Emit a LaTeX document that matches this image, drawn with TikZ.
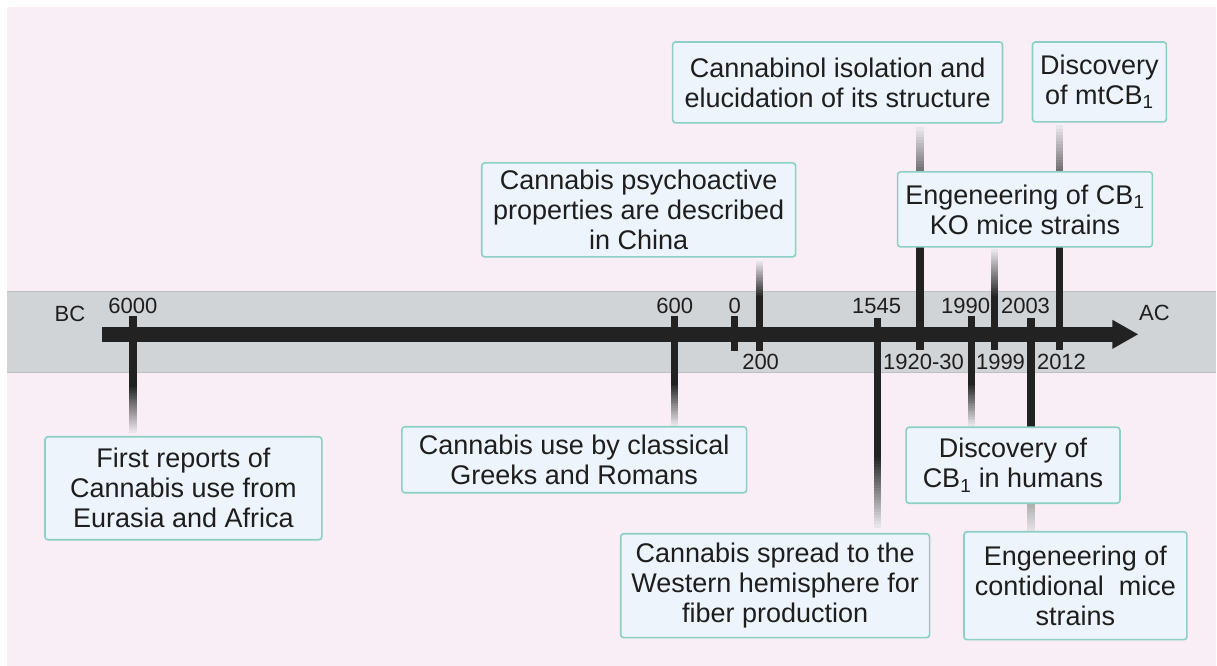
\documentclass[tikz,border=0pt]{standalone}
\usepackage{fontspec}
\setmainfont{Liberation Sans}
\usetikzlibrary{calc,arrows.meta}
\definecolor{bgpink}{HTML}{F9EEF6}
\definecolor{bandgray}{HTML}{D1D4D7}
\definecolor{bandline}{HTML}{BDBFC2}
\definecolor{axisc}{HTML}{222222}
\definecolor{fadec}{HTML}{E8E4EA}
\definecolor{boxfill}{HTML}{EEF4FB}
\definecolor{boxedge}{HTML}{8CCFC5}
\definecolor{textc}{HTML}{1E1E1E}
% x, dark from y1 to y2, then fading from y2 to y3
\newcommand\stemfade[4]{%
  \fill[axisc] (#1-3.75,#2) rectangle (#1+3.75,#3);
  \foreach \i in {0,...,23}{%
    \pgfmathsetmacro\ya{#3+(#4-#3)*\i/24}%
    \pgfmathsetmacro\yb{#3+(#4-#3)*(\i+1.4)/24}%
    \pgfmathsetmacro\pc{100-\i*100/23}%
    \fill[axisc!\pc!fadec] (#1-3.75,\ya) rectangle (#1+3.75,\yb);}%
}
\begin{document}
\begin{tikzpicture}[x=1pt,y=-1pt,
  evbox/.style={draw=boxedge, line width=1.6pt, fill=boxfill, rounded corners=3pt,
    align=center, text=textc, font=\fontsize{27}{30}\selectfont, inner sep=0pt},
  yearlbl/.style={font=\fontsize{22}{22}\selectfont, text=textc, inner sep=0pt}]
% background
\fill[white] (0,0) rectangle (1217,666);
\fill[bgpink] (7,7) rectangle (1217,666);
\fill[bandgray] (7,291) rectangle (1217,373);
\draw[bandline, line width=1.2pt] (7,291.6) -- (1217,291.6) (7,372.4) -- (1217,372.4);
% tick coordinates on the axis
\coordinate (t6000) at (133,334);
\coordinate (t600) at (675,334);
\coordinate (t0) at (735,334);
\coordinate (t200) at (760,334);
\coordinate (t1545) at (878,334);
\coordinate (t1920) at (920.5,334);
\coordinate (t1990) at (972,334);
\coordinate (t1999) at (995,334);
\coordinate (t2003) at (1031.5,334);
\coordinate (t2012) at (1060,334);
% stems
\stemfade{133}{316}{385}{432}
\stemfade{675}{316}{383}{426}
\fill[axisc] (735-3.75,316) rectangle (735+3.75,351);
\stemfade{760}{351}{298}{262}
\stemfade{878}{318}{455}{527}
\stemfade{920.5}{350}{200}{128}
\stemfade{972}{316}{383}{426}
\stemfade{995}{350}{298}{250}
\fill[axisc] (1031.5-3.75,318) rectangle (1031.5+3.75,430);
\stemfade{1060}{350}{200}{126}
\begin{scope}
\colorlet{axisc}{black!32}
\stemfade{1031.5}{503}{503}{533}
\end{scope}
% axis
\coordinate (axstart) at (102,334.5);
\coordinate (axend) at (1139,334.5);
\draw[axisc, line width=15.5pt, -{Triangle[length=26pt,width=27pt]}] (axstart) -- (axend);
% labels
\node[yearlbl] (lBC) at (70,314) {BC};
\node[yearlbl] (lAC) at (1155,313) {AC};
\node[yearlbl] (l6000) at (133,306) {6000};
\node[yearlbl] (l600) at (675,306) {600};
\node[yearlbl] (l0) at (735,306) {0};
\node[yearlbl] (l200) at (761,362) {200};
\node[yearlbl] (l1545) at (877,306) {1545};
\node[yearlbl] (l1920) at (924,362) {1920-30};
\node[yearlbl] (l1990) at (966,306) {1990};
\node[yearlbl] (l1999) at (1001,362) {1999};
\node[yearlbl] (l2003) at (1026,306) {2003};
\node[yearlbl] (l2012) at (1062,362) {2012};
% event boxes
\node[evbox, minimum width=277, minimum height=103] (b1) at (183.5,488.5)
  {First reports of\\Cannabis use from\\Eurasia and Africa};
\node[evbox, minimum width=345, minimum height=66] (b2) at (574.5,460)
  {Cannabis use by classical\\Greeks and Romans};
\node[evbox, minimum width=314, minimum height=94] (b3) at (639,210)
  {Cannabis psychoactive\\properties are described\\in China};
\node[evbox, minimum width=330, minimum height=81] (b4) at (838,82.5)
  {Cannabinol isolation and\\elucidation of its structure};
\node[evbox, minimum width=134, minimum height=80] (b5) at (1100,82)
  {Discovery\\of mtCB\textsubscript{1}};
\node[evbox, minimum width=255, minimum height=75] (b6) at (1025.5,209.5)
  {Engeneering of CB\textsubscript{1}\\KO mice strains};
\node[evbox, minimum width=309, minimum height=104] (b7) at (775.5,586)
  {Cannabis spread to the\\Western hemisphere for\\fiber production};
\node[evbox, minimum width=214, minimum height=76] (b8) at (1013.5,465.5)
  {Discovery of\\CB\textsubscript{1} in humans};
\node[evbox, minimum width=223, minimum height=108] (b9) at (1076,586)
  {Engeneering of\\contidional\ \ mice\\strains};
\end{tikzpicture}
\end{document}
